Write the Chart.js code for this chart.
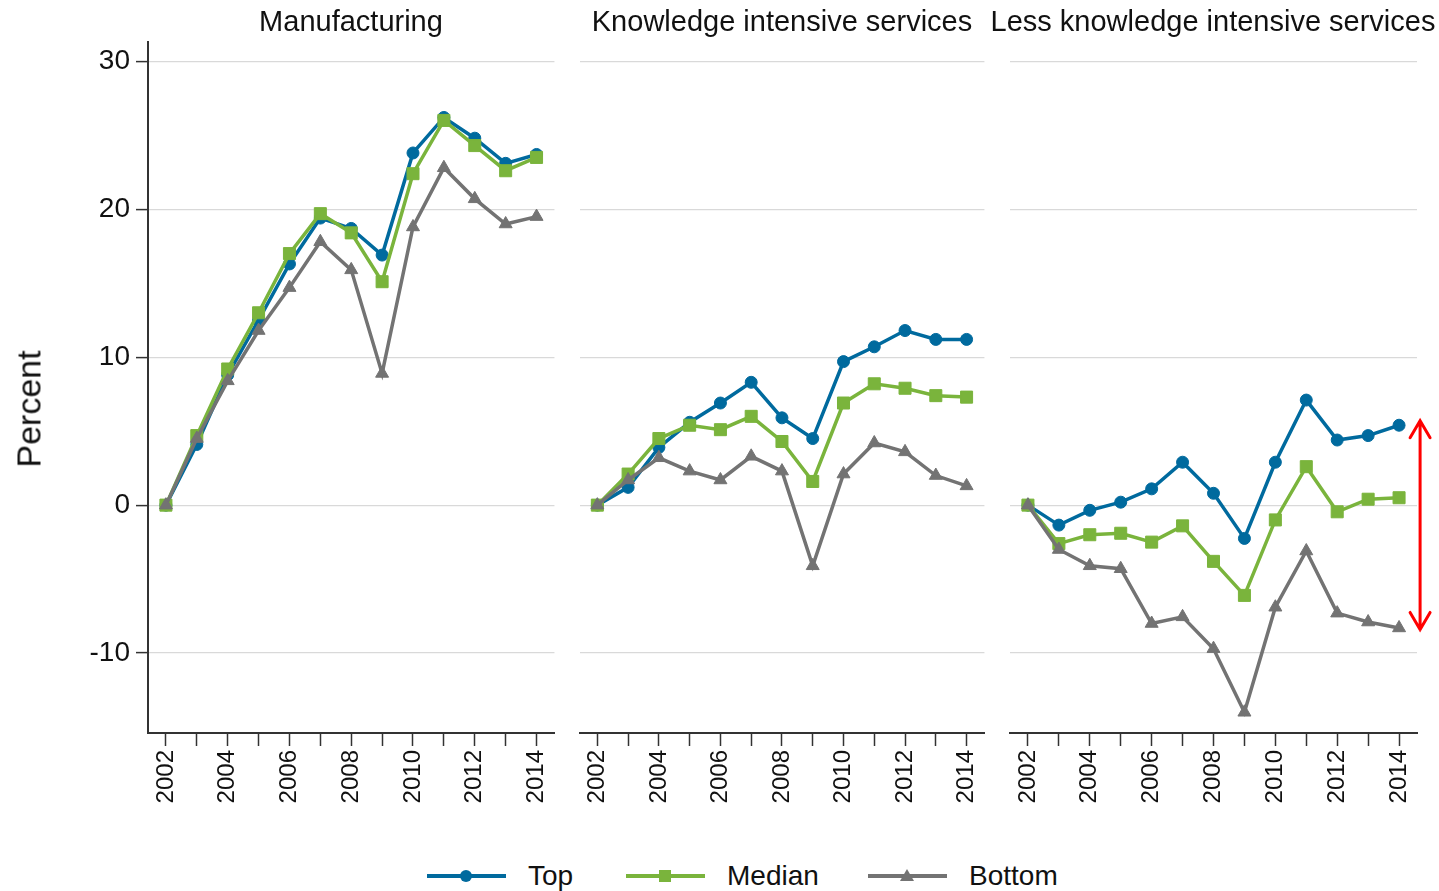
<!DOCTYPE html>
<html>
<head>
<meta charset="utf-8">
<script src="https://cdn.jsdelivr.net/npm/chart.js@4"></script>
<style>
  body { margin: 0; background: #fff; font-family: "Liberation Sans", Arial, sans-serif; }
  #wrap { position: relative; width: 1439px; height: 891px; overflow: hidden; }
  canvas { position: absolute; top: 0; }
  .ptitle { position: absolute; top: 5px; font-size: 29px; color: #111; white-space: nowrap; transform: translateX(-50%); }
  #ytitle { position: absolute; left: 29px; top: 409px; font-size: 34px; color: #111; transform: translate(-50%, -50%) rotate(-90deg); white-space: nowrap; }
  #legend { position: absolute; top: 856px; left: 0; width: 1439px; height: 35px; font-size: 28px; color: #111; }
  .item { position: absolute; top: 0; display: flex; align-items: center; height: 40px; }
  .item svg { margin-right: 22px; }
</style>
</head>
<body>
<div id="wrap">
  <canvas id="c1" width="570" height="830" style="left:0px"></canvas>
  <canvas id="c2" width="430" height="830" style="left:570px"></canvas>
  <canvas id="c3" width="439" height="830" style="left:1000px"></canvas>
  <div class="ptitle" style="left:351px">Manufacturing</div>
  <div class="ptitle" style="left:782px">Knowledge intensive services</div>
  <div class="ptitle" style="left:1213px">Less knowledge intensive services</div>
  <div id="ytitle">Percent</div>
  <div id="legend"></div>
</div>
<script>
// years on the x axis, ticks every year, labels every other year
const years = [2002, 2003, 2004, 2005, 2006, 2007, 2008, 2009, 2010, 2011, 2012, 2013, 2014];
const yTicks = [-10, 0, 10, 20, 30];

const seriesNames = ['Top', 'Median', 'Bottom'];

// Manufacturing
const mfgTop    = [0, 4.1, 8.8, 12.5, 16.3, 19.4, 18.7, 16.9, 23.8, 26.2, 24.8, 23.1, 23.7];
const mfgMedian = [0, 4.7, 9.2, 13.0, 17.0, 19.7, 18.4, 15.1, 22.4, 26.0, 24.3, 22.6, 23.5];
const mfgBottom = [0, 4.5, 8.4, 11.8, 14.7, 17.8, 15.9, 8.9, 18.8, 22.8, 20.7, 19.0, 19.5];

// Knowledge intensive services
const kisTop    = [0, 1.2, 3.9, 5.6, 6.9, 8.3, 5.9, 4.5, 9.7, 10.7, 11.8, 11.2, 11.2];
const kisMedian = [0, 2.1, 4.5, 5.4, 5.1, 6.0, 4.3, 1.6, 6.9, 8.2, 7.9, 7.4, 7.3];
const kisBottom = [0, 1.7, 3.2, 2.3, 1.7, 3.3, 2.3, -4.1, 2.1, 4.2, 3.6, 2.0, 1.3];

// Less knowledge intensive services
const lkisTop    = [0, -1.35, -0.35, 0.2, 1.1, 2.9, 0.8, -2.25, 2.9, 7.1, 4.4, 4.7, 5.4];
const lkisMedian = [0, -2.6, -2.0, -1.9, -2.5, -1.4, -3.8, -6.1, -1.0, 2.6, -0.45, 0.4, 0.5];
const lkisBottom = [0, -3.0, -4.1, -4.3, -8.0, -7.55, -9.7, -14.0, -6.9, -3.1, -7.3, -7.9, -8.3];

// red gap arrow in the last panel (data units)
const arrowYear = 2014.68;
const arrowFrom = 5.7;
const arrowTo = -8.4;

const colors = ['#006a9e', '#7ab43c', '#737373'];
const styles = ['circle', 'rect', 'triangle'];
const radii = [6, 8.5, 7.5];
const font = '"Liberation Sans", Arial, sans-serif';

function makeDatasets(top, med, bot) {
  return [top, med, bot].map((vals, i) => ({
    label: seriesNames[i],
    data: vals.map((v, j) => ({ x: years[j], y: v })),
    borderColor: colors[i],
    backgroundColor: colors[i],
    pointBackgroundColor: colors[i],
    pointBorderColor: colors[i],
    pointBorderWidth: 1,
    pointStyle: styles[i],
    pointRadius: radii[i],
    borderWidth: 3.5,
    tension: 0,
    order: 3 - i
  }));
}

const gapArrow = {
  id: 'gapArrow',
  afterDatasetsDraw(chart) {
    const ctx = chart.ctx;
    const x = chart.scales.x.getPixelForValue(arrowYear);
    const y1 = chart.scales.y.getPixelForValue(arrowFrom);
    const y2 = chart.scales.y.getPixelForValue(arrowTo);
    ctx.save();
    ctx.strokeStyle = '#ff0000';
    ctx.lineWidth = 3;
    ctx.lineCap = 'round';
    ctx.beginPath();
    ctx.moveTo(x, y1); ctx.lineTo(x, y2);
    ctx.moveTo(x - 10, y1 + 17); ctx.lineTo(x, y1); ctx.lineTo(x + 10, y1 + 17);
    ctx.moveTo(x - 10, y2 - 17); ctx.lineTo(x, y2); ctx.lineTo(x + 10, y2 - 17);
    ctx.stroke();
    ctx.restore();
  }
};

function makePanel(id, top, med, bot, first, pad, plugins) {
  return new Chart(document.getElementById(id), {
    type: 'line',
    data: { datasets: makeDatasets(top, med, bot) },
    plugins: plugins || [],
    options: {
      responsive: false,
      animation: false,
      devicePixelRatio: 1,
      layout: { padding: { top: 42, bottom: 0, left: pad[0], right: pad[1] } },
      plugins: { legend: { display: false }, tooltip: { enabled: false } },
      scales: {
        x: {
          type: 'linear',
          min: 2001.42,
          max: 2014.58,
          afterBuildTicks: s => { s.ticks = years.map(v => ({ value: v })); },
          afterFit: s => { s.height = 97; },
          grid: { drawOnChartArea: false, drawTicks: true, tickLength: 13, tickColor: '#333', tickWidth: 1.5 },
          border: { display: true, color: '#333', width: 2 },
          ticks: {
            callback: v => (v % 2 === 0 ? String(v) : ''),
            minRotation: 90,
            maxRotation: 90,
            autoSkip: false,
            padding: 4,
            color: '#111',
            font: { family: font, size: 24 }
          }
        },
        y: {
          min: -15.4,
          max: 31.3,
          afterBuildTicks: s => { s.ticks = yTicks.map(v => ({ value: v })); },
          afterFit: s => { s.width = first ? 148 : 0; },
          grid: { color: '#d9d9d9', lineWidth: 1.2, drawTicks: first, tickLength: 12, tickColor: '#333', tickWidth: 1.5 },
          border: { display: first, color: '#333', width: 2 },
          ticks: {
            display: first,
            padding: 6,
            color: '#111',
            font: { family: font, size: 28 }
          }
        }
      }
    }
  });
}

makePanel('c1', mfgTop, mfgMedian, mfgBottom, true, [0, 15]);
makePanel('c2', kisTop, kisMedian, kisBottom, false, [9, 14]);
makePanel('c3', lkisTop, lkisMedian, lkisBottom, false, [10, 22], [gapArrow]);

// legend: line + marker, then the label
const legendPos = [[427, 528], [626, 726], [868, 968]];
const legend = document.getElementById('legend');
seriesNames.forEach((name, i) => {
  const c = colors[i];
  let mark;
  if (i === 0) mark = `<circle cx="39" cy="20" r="6" fill="${c}"/>`;
  else if (i === 1) mark = `<rect x="33" y="14" width="12" height="12" fill="${c}"/>`;
  else mark = `<polygon points="39,13 46,25 32,25" fill="${c}"/>`;
  const div = document.createElement('div');
  div.className = 'item';
  div.style.left = legendPos[i][0] + 'px';
  div.innerHTML = `<svg width="79" height="40"><line x1="0" y1="20" x2="79" y2="20" stroke="${c}" stroke-width="4"/>${mark}</svg><span>${name}</span>`;
  legend.appendChild(div);
});
</script>
</body>
</html>
